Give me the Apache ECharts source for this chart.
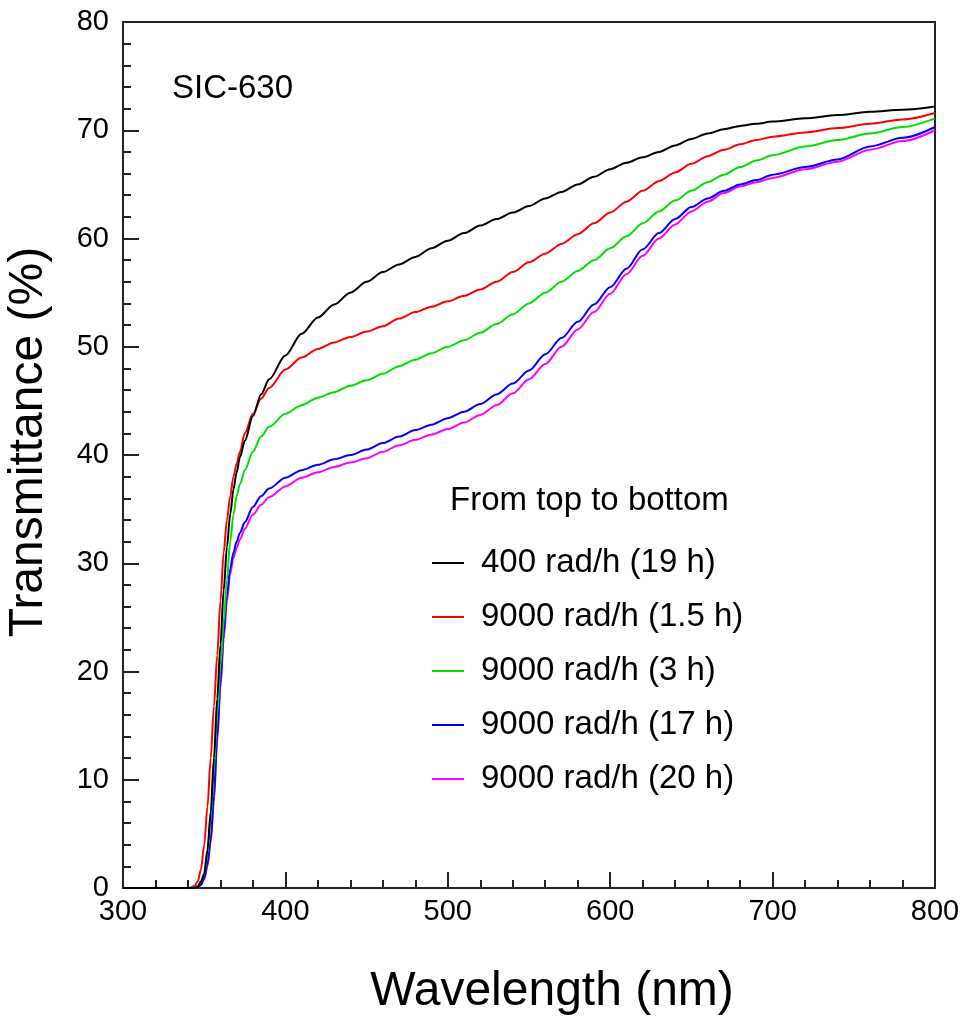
<!DOCTYPE html>
<html>
<head>
<meta charset="utf-8">
<script src="https://cdn.jsdelivr.net/npm/echarts@6/dist/echarts.min.js"></script>
<style>html,body{margin:0;padding:0;background:#fff;}#chart{width:961px;height:1017px;}</style>
</head>
<body>
<div id="chart"></div>
<script>
const wavelengths = [300,340,342,344,346,348,350,352,354,356,358,360,362,364,366,368,370,372,375,380,385,390,400,410,420,430,440,450,460,470,480,490,500,510,520,530,540,550,560,570,580,590,600,610,620,630,640,650,660,670,680,690,700,720,740,760,780,800];
const seriesNames = ['400 rad/h (19 h)','9000 rad/h (1.5 h)','9000 rad/h (3 h)','9000 rad/h (17 h)','9000 rad/h (20 h)'];
const t400_19h = [0,0,0,0,0.1,0.6,1.3,3.5,7.0,12.0,17.5,22.5,27.5,31.5,34.5,36.8,38.4,39.8,41.3,43.6,45.6,47.0,49.2,51.2,52.7,53.9,55.0,56.0,56.9,57.6,58.3,59.1,59.8,60.5,61.2,61.8,62.4,63.0,63.7,64.3,65.0,65.7,66.4,67.0,67.5,68.0,68.6,69.2,69.7,70.1,70.4,70.6,70.8,71.1,71.4,71.7,71.9,72.2];
const t9000_1p5h = [0,0,0.05,0.2,0.6,1.7,4.0,7.5,12.0,16.8,21.5,26.5,31.0,34.0,36.2,38.0,39.2,40.3,42.0,43.8,45.2,46.2,47.9,49.0,49.8,50.4,50.9,51.4,51.9,52.6,53.2,53.7,54.2,54.7,55.3,56.0,56.9,57.8,58.6,59.5,60.4,61.4,62.4,63.4,64.4,65.3,66.1,66.9,67.6,68.2,68.7,69.1,69.4,69.8,70.2,70.6,71.0,71.6];
const t9000_3h = [0,0,0,0.05,0.2,0.6,1.3,3.2,6.5,11.0,16.0,20.5,24.5,28.5,32.0,34.5,36.2,37.3,38.6,40.3,41.7,42.6,43.8,44.6,45.3,45.8,46.4,46.9,47.5,48.2,48.8,49.4,50.0,50.6,51.3,52.1,53.0,54.0,55.0,56.0,57.0,58.0,59.1,60.2,61.4,62.5,63.5,64.4,65.2,65.9,66.6,67.2,67.7,68.5,69.1,69.7,70.3,71.1];
const t9000_17h = [0,0,0,0,0.05,0.3,0.9,2.2,4.5,8.5,14.0,19.0,23.5,27.0,29.5,31.0,32.0,32.8,33.8,35.2,36.2,36.9,37.9,38.6,39.1,39.6,40.0,40.5,41.1,41.7,42.3,42.8,43.4,44.0,44.7,45.6,46.6,47.8,49.3,50.8,52.3,53.9,55.5,57.2,59.0,60.5,61.8,62.9,63.7,64.4,65.0,65.4,65.9,66.6,67.3,68.5,69.3,70.3];
const t9000_20h = [0,0,0,0,0.05,0.3,0.8,2.0,4.2,8.0,13.5,18.5,23.0,26.5,29.0,30.5,31.4,32.2,33.2,34.5,35.4,36.1,37.1,37.9,38.4,38.9,39.3,39.7,40.3,40.9,41.4,41.9,42.4,43.0,43.7,44.6,45.7,47.0,48.4,50.0,51.6,53.2,54.9,56.7,58.4,60.0,61.3,62.5,63.4,64.2,64.8,65.2,65.6,66.4,67.1,68.2,69.0,70.0];
const seriesValues = [t400_19h, t9000_1p5h, t9000_3h, t9000_17h, t9000_20h];
const seriesColors = ['#000000','#ff0000','#00e000','#0000ff','#ff00ff'];

const FONT = '"Liberation Sans", Arial, Helvetica, sans-serif';
const chart = echarts.init(document.getElementById('chart'), null, {renderer:'canvas'});

const drawOrder = [4,3,2,1,0];
const series = drawOrder.map(i => ({
  name: seriesNames[i],
  type: 'line',
  data: wavelengths.map((w, k) => [w, seriesValues[i][k]]),
  showSymbol: false,
  smooth: 0.3,
  smoothMonotone: 'x',
  lineStyle: {color: seriesColors[i], width: 2},
  itemStyle: {color: seriesColors[i]},
  z: 10 - i,
  animation: false
}));

chart.setOption({
  backgroundColor: '#fff',
  animation: false,
  textStyle: {fontFamily: FONT},
  title: [
    {text: 'SIC-630', left: 172, top: 72, padding: 0,
     textStyle: {fontFamily: FONT, fontSize: 33, fontWeight: 'normal', color: '#000', lineHeight: 33}},
    {text: 'From top to bottom', left: 450, top: 484, padding: 0,
     textStyle: {fontFamily: FONT, fontSize: 33, fontWeight: 'normal', color: '#000', lineHeight: 33}}
  ],
  legend: {
    data: seriesNames,
    orient: 'vertical',
    left: 432,
    top: 543,
    padding: 0,
    icon: 'rect',
    itemWidth: 32,
    itemHeight: 2,
    itemGap: 14,
    selectedMode: false,
    textStyle: {fontFamily: FONT, fontSize: 33, color: '#000', lineHeight: 40, padding: [0,0,0,12]}
  },
  grid: {left: 123, top: 22, right: 26, bottom: 129, outerBoundsMode: 'none', containLabel: false,
         show: true, borderColor: '#222', borderWidth: 2, backgroundColor: 'transparent'},
  xAxis: {
    type: 'value', min: 300, max: 800, interval: 100,
    name: 'Wavelength (nm)', nameLocation: 'middle', nameGap: 80,
    nameTextStyle: {fontFamily: FONT, fontSize: 48, color: '#000', padding: [0,0,0,46]},
    axisLine: {show: true, lineStyle: {color: '#222', width: 2}},
    axisTick: {show: true, inside: true, length: 16, lineStyle: {color: '#222', width: 2}},
    minorTick: {show: true, splitNumber: 5, length: 8, lineStyle: {color: '#222', width: 2}},
    splitLine: {show: false},
    axisLabel: {fontFamily: FONT, fontSize: 29, color: '#000', margin: 9}
  },
  yAxis: {
    type: 'value', min: 0, max: 80, interval: 10,
    name: 'Transmittance (%)', nameLocation: 'middle', nameGap: 70,
    nameTextStyle: {fontFamily: FONT, fontSize: 48, color: '#000', padding: [0,0,0,26]},
    axisLine: {show: true, lineStyle: {color: '#222', width: 2}},
    axisTick: {show: true, inside: true, length: 16, lineStyle: {color: '#222', width: 2}},
    minorTick: {show: true, splitNumber: 5, length: 8, lineStyle: {color: '#222', width: 2}},
    splitLine: {show: false},
    axisLabel: {fontFamily: FONT, fontSize: 29, color: '#000', margin: 14}
  },
  series: series
});
</script>
</body>
</html>
